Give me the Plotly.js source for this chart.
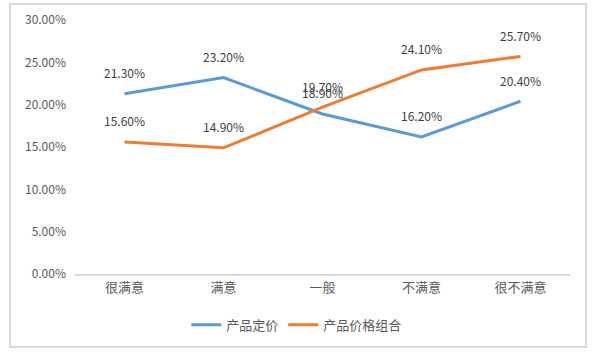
<!DOCTYPE html>
<html><head><meta charset="utf-8">
<script src="https://cdn.plot.ly/plotly-3.0.1.min.js"></script>
<style>html,body{margin:0;padding:0;background:#fff;}#chart{width:607px;height:353px;}</style>
</head><body><div id="chart"></div>
<script>
const categories = ["很满意", "满意", "一般", "不满意", "很不满意"];
const pricing = [0.213, 0.232, 0.189, 0.162, 0.204];
const combo = [0.156, 0.149, 0.197, 0.241, 0.257];
const seriesNames = ["产品定价", "产品价格组合"];
const yTicks = [0, 0.05, 0.10, 0.15, 0.20, 0.25, 0.30];
const yTickText = ["0.00%", "5.00%", "10.00%", "15.00%", "20.00%", "25.00%", "30.00%"];

const colors = ["#5B9BD5", "#ED7D31"];
const fontFamily = "'Noto Sans CJK SC', 'Liberation Sans', sans-serif";

const traces = [pricing, combo].map((vals, i) => ({
  x: categories, y: vals, name: seriesNames[i], type: "scatter", mode: "lines",
  line: {color: colors[i], width: 3}, hoverinfo: "skip"
}));

const annotations = [];
[pricing, combo].forEach(vals => {
  vals.forEach((v, j) => {
    annotations.push({x: categories[j], y: v, xref: "x", yref: "y",
      text: (v * 100).toFixed(2) + "%", showarrow: false, yshift: 21,
      font: {family: fontFamily, size: 12, color: "#404040"}});
  });
});

const layout = {
  width: 607, height: 353,
  margin: {l: 75, r: 37, t: 20, b: 79},
  paper_bgcolor: "#fff", plot_bgcolor: "#fff",
  showlegend: true,
  legend: {orientation: "h", x: 0.448, xanchor: "center", y: -0.2, yanchor: "middle",
    font: {family: fontFamily, size: 13, color: "#595959"}},
  xaxis: {type: "category", range: [-0.5, 4.5], showgrid: false, showline: true, linecolor: "#d9d9d9", linewidth: 2,
    ticks: "", tickfont: {family: fontFamily, size: 13, color: "#595959"}, fixedrange: true},
  yaxis: {range: [0, 0.30], tickvals: yTicks, ticktext: yTickText, showgrid: false, zeroline: false,
    showline: false, ticks: "", ticklabelstandoff: 8,
    tickfont: {family: fontFamily, size: 12, color: "#595959"}, fixedrange: true},
  annotations: annotations,
  shapes: [{type: "rect", xref: "paper", yref: "paper",
    x0: (10 - 75) / 495, x1: (586 - 75) / 495, y0: (274 - 347) / 254, y1: (274 - 4) / 254,
    line: {color: "#d9d9d9", width: 2}, fillcolor: "rgba(0,0,0,0)", layer: "below"}]
};

Plotly.newPlot("chart", traces, layout, {displayModeBar: false, staticPlot: true});
</script></body></html>
